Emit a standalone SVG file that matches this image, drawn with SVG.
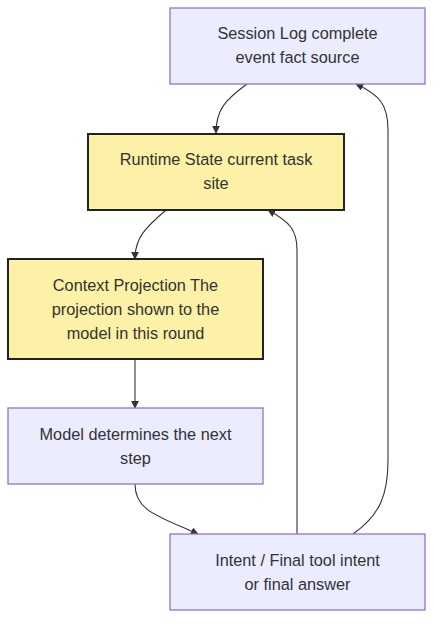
<svg xmlns="http://www.w3.org/2000/svg" width="441" height="630" viewBox="0 0 441 630">
<style>
.p{fill:#ECECFF;stroke:#9370DB;stroke-width:1.3}
.y{fill:#FCF1A6;stroke:#222;stroke-width:2}
text{font-family:"Liberation Sans",Arial,sans-serif;font-size:16.3px;fill:#333;text-anchor:middle}
.e{fill:none;stroke:#333;stroke-width:1.1;marker-end:url(#a)}
</style>
<defs>
<marker id="a" viewBox="0 0 10 10" refX="9" refY="5" markerWidth="8" markerHeight="8" orient="auto-start-reverse" markerUnits="userSpaceOnUse">
<path d="M0,0L10,5L0,10z" fill="#333"/>
</marker>
</defs>
<rect width="441" height="630" fill="#fff"/>
<g id="edges">
<path class="e" d="M247,84 C225,100 216,110 216,133"/>
<path class="e" d="M166,210 C145,228 135,238 135,259"/>
<path class="e" d="M135,359 L135,408"/>
<path class="e" d="M135,484 C135,510 155,515 198,534"/>
<path class="e" d="M297,534 L297,250 C297,230 290,222 268,210"/>
<path class="e" d="M353,534 C380,515 388,495 388,460 L388,130 C388,105 380,95 356,84"/>
</g>
<g id="session">
<rect class="p" x="170" y="8" width="255" height="76"/>
<text x="297.5" y="39">Session Log complete</text>
<text x="297.5" y="63">event fact source</text>
</g>
<g id="runtime">
<rect class="y" x="88" y="134" width="256" height="76"/>
<text x="216" y="165">Runtime State current task</text>
<text x="216" y="189">site</text>
</g>
<g id="context">
<rect class="y" x="8" y="259" width="255" height="100"/>
<text x="135.5" y="291">Context Projection The</text>
<text x="135.5" y="315">projection shown to the</text>
<text x="135.5" y="339">model in this round</text>
</g>
<g id="model">
<rect class="p" x="8" y="408" width="255" height="76"/>
<text x="135.5" y="440">Model determines the next</text>
<text x="135.5" y="464">step</text>
</g>
<g id="intent">
<rect class="p" x="170" y="534" width="255" height="76"/>
<text x="297.5" y="566">Intent / Final tool intent</text>
<text x="297.5" y="590">or final answer</text>
</g>
</svg>
